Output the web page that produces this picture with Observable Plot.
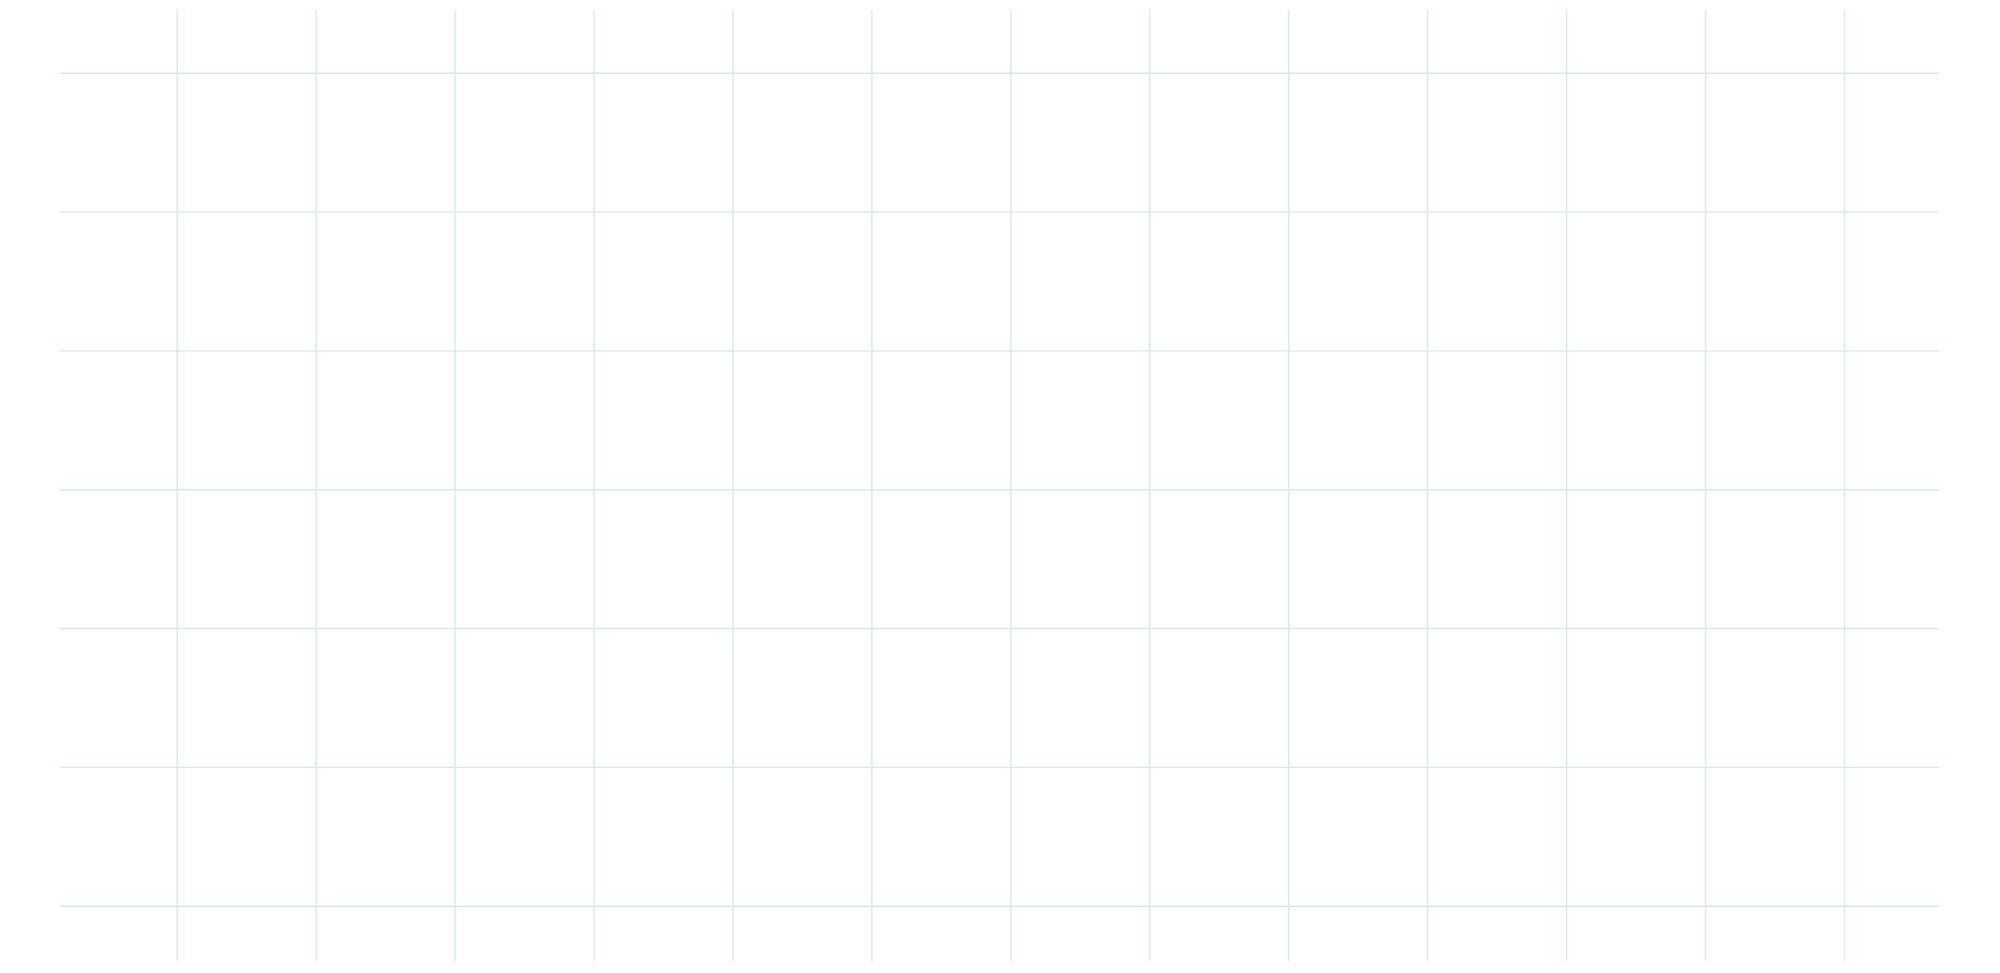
<!DOCTYPE html>
<html>
<head>
<meta charset="utf-8">
<script src="https://cdn.jsdelivr.net/npm/d3@7"></script>
<script src="https://cdn.jsdelivr.net/npm/@observablehq/plot@0.6"></script>
<style>
  html, body { margin: 0; padding: 0; background: #ffffff; }
  #chart svg { display: block; }
</style>
</head>
<body>
<div id="chart"></div>
<script>
// Grid columns and rows (data units)
const xTicks = [0, 1, 2, 3, 4, 5, 6, 7, 8, 9, 10, 11, 12];
const yTicks = [0, 1, 2, 3, 4, 5, 6];
// Visible data extent of the grid
const xDomain = [-0.84, 12.686];
const yDomain = [-0.396, 6.452];

const gridColor = "#d5ebe8";

const chart = Plot.plot({
  width: 2000,
  height: 973,
  marginLeft: 60,
  marginRight: 60.7,
  marginTop: 10,
  marginBottom: 12.3,
  x: { domain: xDomain, axis: null },
  y: { domain: yDomain, axis: null },
  marks: [
    Plot.ruleY(yTicks, { stroke: gridColor, strokeWidth: 1.4 }),
    Plot.ruleX(xTicks, { stroke: gridColor, strokeWidth: 1.4 })
  ]
});
document.getElementById("chart").appendChild(chart);
</script>
</body>
</html>
